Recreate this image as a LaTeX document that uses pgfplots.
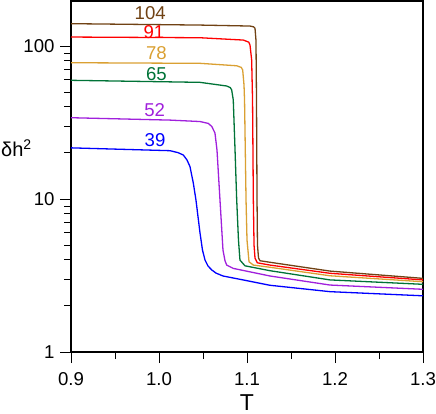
\documentclass[border=0pt]{standalone}
\usepackage{fontspec}
\setmainfont{Liberation Sans}
\usepackage{pgfplots}
\pgfplotsset{compat=1.18}
\definecolor{cbrown}{RGB}{112,66,20}
\definecolor{cred}{RGB}{255,0,0}
\definecolor{corange}{RGB}{218,160,50}
\definecolor{cgreen}{RGB}{0,115,55}
\definecolor{cpurple}{RGB}{160,32,220}
\definecolor{cblue}{RGB}{0,0,255}
\begin{document}
\begin{tikzpicture}
\begin{axis}[
  scale only axis,
  width=352bp, height=351bp,
  xmin=0.9, xmax=1.3,
  ymode=log, ymin=1, ymax=197,
  xtick={0.9,1.0,1.1,1.2,1.3},
  xticklabels={0.9,1.0,1.1,1.2,1.3},
  minor x tick num=1,
  ytick={1,10,100},
  yticklabels={1,10,100},
  tick pos=left,
  tick align=outside,
  major tick length=11bp,
  minor tick length=7bp,
  tick style={black, line width=1bp},
  axis line style={line width=1.2bp},
  tick label style={font=\fontsize{18.6bp}{20bp}\selectfont},
  xticklabel style={yshift=-6bp},
  yticklabel style={xshift=-2bp},
  xlabel={T},
  xlabel style={font=\fontsize{23bp}{24bp}\selectfont, at={(rel axis cs:0.5,0)}, anchor=north, yshift=-42bp, inner sep=0pt},
  clip=false,
]
% 104 brown
\addplot[cbrown, line width=1.3bp] coordinates {
(0.9,140.0) (1.0466,137.1) (1.1034,135.1) (1.1075,133.5) (1.1091,130.6) (1.1102,109) (1.1108,44.4) (1.1114,9.85) (1.1119,5.0) (1.1131,4.11) (1.1148,3.95) (1.1261,3.86) (1.1943,3.38) (1.3,3.03) };
% 91 red
\addplot[cred, line width=1.3bp] coordinates {
(0.9,114.5) (1.0466,113.3) (1.0958,109.4) (1.1020,106.0) (1.1034,101.6) (1.1053,80.9) (1.1063,44.4) (1.1072,9.85) (1.1080,5.0) (1.1091,4.11) (1.1117,3.83) (1.1261,3.70) (1.1943,3.27) (1.3,2.96) };
% 78 orange
\addplot[corange, line width=1.3bp] coordinates {
(0.9,77.8) (1.0466,77.1) (1.0883,74.3) (1.0935,72.5) (1.0951,69.7) (1.0966,55.6) (1.0972,44.4) (1.0989,9.85) (1.1000,5.4) (1.1023,3.89) (1.1072,3.70) (1.1261,3.58) (1.1943,3.15) (1.3,2.88) };
% 65 green
\addplot[cgreen, line width=1.3bp] coordinates {
(0.9,59.7) (1.0466,57.9) (1.0769,54.8) (1.0810,53.5) (1.0826,51.6) (1.0844,44.4) (1.0864,20.9) (1.0883,9.85) (1.0903,5.4) (1.0920,3.99) (1.0977,3.66) (1.1261,3.40) (1.1943,2.96) (1.3,2.77) };
% 52 purple
\addplot[cpurple, line width=1.3bp] coordinates {
(0.9,34.0) (1.0125,32.8) (1.0466,32.1) (1.0560,31.2) (1.0600,29.8) (1.0636,27.0) (1.0659,20.9) (1.0693,9.85) (1.0727,4.64) (1.0750,3.95) (1.0769,3.70) (1.0844,3.52) (1.1261,3.14) (1.1943,2.74) (1.3,2.57) };
% 39 blue
\addplot[cblue, line width=1.3bp] coordinates {
(0.9,21.6) (1.0125,20.7) (1.0216,20.1) (1.0276,19.4) (1.0318,18.0) (1.0352,16.3) (1.0390,12.7) (1.0420,9.85) (1.0466,6.0) (1.0494,4.64) (1.0523,3.99) (1.0557,3.65) (1.0599,3.44) (1.0648,3.28) (1.0727,3.14) (1.0955,2.96) (1.1261,2.73) (1.1943,2.48) (1.3,2.33) };
% tick marks (axis decoration)
\pgfplotsinvokeforeach{2,3,4,5,6,7,8,9,20,30,40,50,60,70,80,90}{\draw[line width=1bp] ([xshift=-7bp]axis cs:0.9,#1) -- (axis cs:0.9,#1);}
\pgfplotsinvokeforeach{1,10,100}{\draw[line width=1bp] ([xshift=-11bp]axis cs:0.9,#1) -- (axis cs:0.9,#1);}
\pgfplotsinvokeforeach{0.9,1.0,1.1,1.2,1.3}{\draw[line width=1bp] ([yshift=-11bp]axis cs:#1,1) -- (axis cs:#1,1);}
\pgfplotsinvokeforeach{0.95,1.05,1.15,1.25}{\draw[line width=1bp] ([yshift=-7bp]axis cs:#1,1) -- (axis cs:#1,1);}
% labels
\begin{scope}[font=\fontsize{18.6bp}{20bp}\selectfont, inner sep=0pt]
\node[cbrown] at (axis cs:0.990,165) {104};
\node[cred] at (axis cs:0.9943,124) {91};
\node[corange] at (axis cs:0.997,89.6) {78};
\node[cgreen] at (axis cs:0.997,65.3) {65};
\node[cpurple] at (axis cs:0.995,38.0) {52};
\node[cblue] at (axis cs:0.9955,24.4) {39};
\end{scope}
\end{axis}
\node[anchor=west, inner sep=0pt, font=\fontsize{20bp}{22bp}\selectfont] at ([shift={(-70bp,204bp)}]current axis.south west) {δh\textsuperscript{2}};
\pgfresetboundingbox
\path ([shift={(-71bp,-61bp)}]current axis.south west) rectangle ([shift={(13bp,1bp)}]current axis.north east);
\end{tikzpicture}
\end{document}
